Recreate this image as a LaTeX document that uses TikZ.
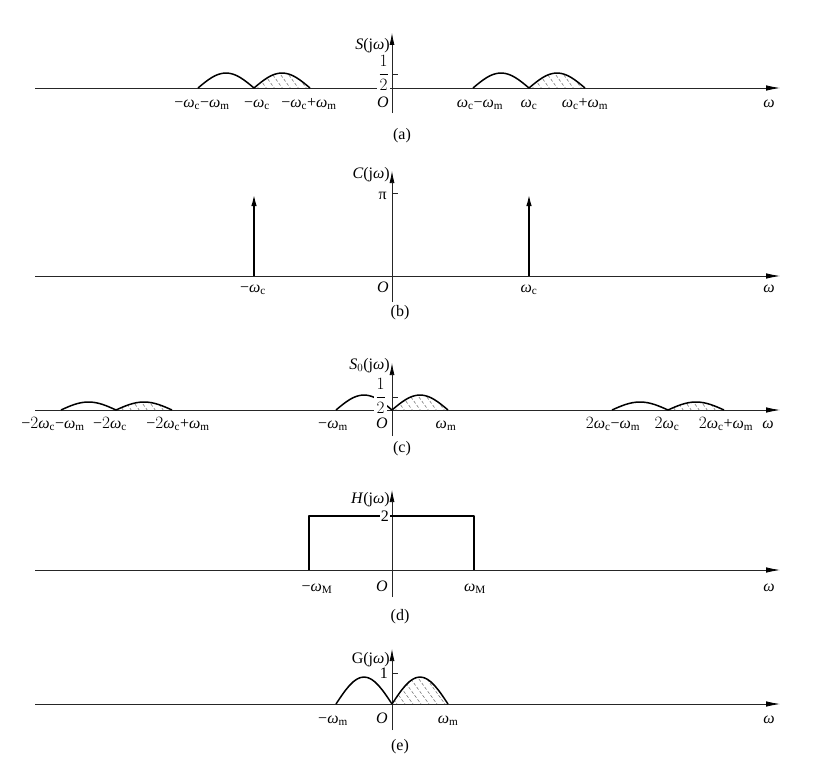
\documentclass[tikz,border=0pt]{standalone}
\usepackage{fontspec}
\setmainfont{Liberation Serif}
\usetikzlibrary{arrows.meta}
\newcommand\om{\mbox{\itshape ω}}
\newcommand\mn{\mbox{−}}
\newcommand\pl{\mbox{+}}
\newcommand\SpecLobe[4]{%
  \draw[lobe] (#1,#4) sin ({#1+#2/2},{#4-#3}) cos ({#1+#2},#4);}
\newcommand\SpecHLobe[4]{%
  \begin{scope}
    \clip (#1,#4) sin ({#1+#2/2},{#4-#3}) cos ({#1+#2},#4) -- cycle;
    \foreach \k in {-5,...,8}
      \draw[hatch] ({#1+\k*8},{#4-#3-2}) -- ++(26,36);
  \end{scope}
  \draw[lobe] (#1,#4) sin ({#1+#2/2},{#4-#3}) cos ({#1+#2},#4);}
\begin{document}
\begin{tikzpicture}[x=1pt,y=-1pt,
  axis/.style={line width=0.75pt, draw=black!85},
  haxis/.style={axis, -{Latex[length=14pt,width=5.5pt,black]}},
  vaxis/.style={axis, -{Latex[length=12pt,width=5pt,black]}},
  lobe/.style={line width=1.5pt, line join=round},
  imp/.style={line width=1.8pt, -{Latex[length=12pt,width=5.5pt]}},
  hatch/.style={line width=0.5pt, draw=black!60, dash pattern=on 3pt off 2pt},
  lab/.style={font=\fontsize{16}{19}\selectfont, inner sep=0pt, anchor=base},
  ylab/.style={lab, anchor=base east},
  frac/.style={font=\fontsize{16}{19}\selectfont, inner sep=1pt, fill=white, anchor=east},
  captxt/.style={font=\fontsize{16}{19}\selectfont, inner sep=0pt},
  tickm/.style={line width=0.75pt, draw=black!85},
  ]
\useasboundingbox (0,0) rectangle (833,760);
\fill[white] (0,0) rectangle (833,760);

% ---------- (a) ----------
\draw[haxis] (35,88) -- (780,88);
\draw[vaxis] (392,113) -- (392,33);
\draw[tickm] (392,74) -- (398,74);
\SpecLobe{198}{56}{15}{88}
\SpecHLobe{254}{56}{15}{88}
\SpecLobe{473}{56}{15}{88}
\SpecHLobe{529}{56}{15}{88}
\node[ylab] (aS) at (390,50) {\textit{S}(j\om)};
\node[frac] (ah) at (390,73) {$\displaystyle\frac{1}{2}$};
\node[lab] (a1) at (202,107) {$\mn\om_{\mathrm{c}}\mn\om_{\mathrm{m}}$};
\node[lab] (a2) at (257,107) {$\mn\om_{\mathrm{c}}$};
\node[lab] (a3) at (309,107) {$\mn\om_{\mathrm{c}}\pl\om_{\mathrm{m}}$};
\node[lab] (aO) at (383,107) {\textit{O}};
\node[lab] (a4) at (480,107) {$\om_{\mathrm{c}}\mn\om_{\mathrm{m}}$};
\node[lab] (a5) at (529,107) {$\om_{\mathrm{c}}$};
\node[lab] (a6) at (585,107) {$\om_{\mathrm{c}}\pl\om_{\mathrm{m}}$};
\node[lab] (aw) at (769,107) {\om};
\node[captxt] (ca) at (402,136) {(a)};

% ---------- (b) ----------
\draw[haxis] (35,276) -- (780,276);
\draw[vaxis] (392,302) -- (392,171);
\draw[tickm] (392,193) -- (398,193);
\draw[imp] (254,276) -- (254,194);
\draw[imp] (529,276) -- (529,194);
\node[ylab] (bC) at (390,178) {\textit{C}(j\om)};
\node[ylab] (bp) at (387,199) {π};
\node[lab] (b1) at (253,292) {$\mn\om_{\mathrm{c}}$};
\node[lab] (bO) at (383,292) {\textit{O}};
\node[lab] (b2) at (529,292) {$\om_{\mathrm{c}}$};
\node[lab] (bw) at (769,292) {\om};
\node[captxt] (cb) at (400,313) {(b)};

% ---------- (c) ----------
\draw[haxis] (35,410) -- (780,410);
\draw[vaxis] (392,436) -- (392,363);
\draw[tickm] (392,397) -- (398,397);
\SpecLobe{61}{55}{8}{410}
\SpecHLobe{116}{56}{8}{410}
\SpecLobe{336}{56}{15}{410}
\SpecHLobe{392}{56}{15}{410}
\SpecLobe{612}{56}{8}{410}
\SpecHLobe{668}{56}{8}{410}
\node[ylab] (cS) at (390,369) {\textit{S}$_0$(j\om)};
\node[frac] (ch) at (387,396) {$\displaystyle\frac{1}{2}$};
\node[lab] (c1) at (53,428) {$\mn2\om_{\mathrm{c}}\mn\om_{\mathrm{m}}$};
\node[lab] (c2) at (110,428) {$\mn2\om_{\mathrm{c}}$};
\node[lab] (c3) at (178,428) {$\mn2\om_{\mathrm{c}}\pl\om_{\mathrm{m}}$};
\node[lab] (c4) at (333,428) {$\mn\om_{\mathrm{m}}$};
\node[lab] (cO) at (382,428) {\textit{O}};
\node[lab] (c5) at (446,428) {$\om_{\mathrm{m}}$};
\node[lab] (c6) at (613,428) {$2\om_{\mathrm{c}}\mn\om_{\mathrm{m}}$};
\node[lab] (c7) at (667,428) {$2\om_{\mathrm{c}}$};
\node[lab] (c8) at (726,428) {$2\om_{\mathrm{c}}\pl\om_{\mathrm{m}}$};
\node[lab] (cw) at (768,428) {\om};
\node[captxt] (cc) at (402,449) {(c)};

% ---------- (d) ----------
\draw[haxis] (35,570) -- (780,570);
\draw[vaxis] (392,597) -- (392,490);
\draw[lobe] (309,570) -- (309,516) -- (474,516) -- (474,570);
\node[frac] (d2) at (390,516) {2};
\node[ylab] (dH) at (390,503) {\textit{H}(j\om)};
\node[lab] (d1) at (317,591) {$\mn\om_{\mathrm{M}}$};
\node[lab] (dO) at (382,591) {\textit{O}};
\node[lab] (d3) at (475,591) {$\om_{\mathrm{M}}$};
\node[lab] (dw) at (769,591) {\om};
\node[captxt] (cd) at (400,617) {(d)};

% ---------- (e) ----------
\draw[haxis] (35,704) -- (780,704);
\draw[vaxis] (392,730) -- (392,649);
\draw[tickm] (392,673) -- (398,673);
\SpecLobe{336}{56}{27}{704}
\SpecHLobe{392}{56}{27}{704}
\node[ylab] (eG) at (390,663) {G(j\om)};
\node[ylab] (e1) at (388,678) {1};
\node[lab] (e2) at (333,723) {$\mn\om_{\mathrm{m}}$};
\node[lab] (eO) at (382,723) {\textit{O}};
\node[lab] (e3) at (448,723) {$\om_{\mathrm{m}}$};
\node[lab] (ew) at (769,723) {\om};
\node[captxt] (ce) at (400,747) {(e)};
\end{tikzpicture}
\end{document}
